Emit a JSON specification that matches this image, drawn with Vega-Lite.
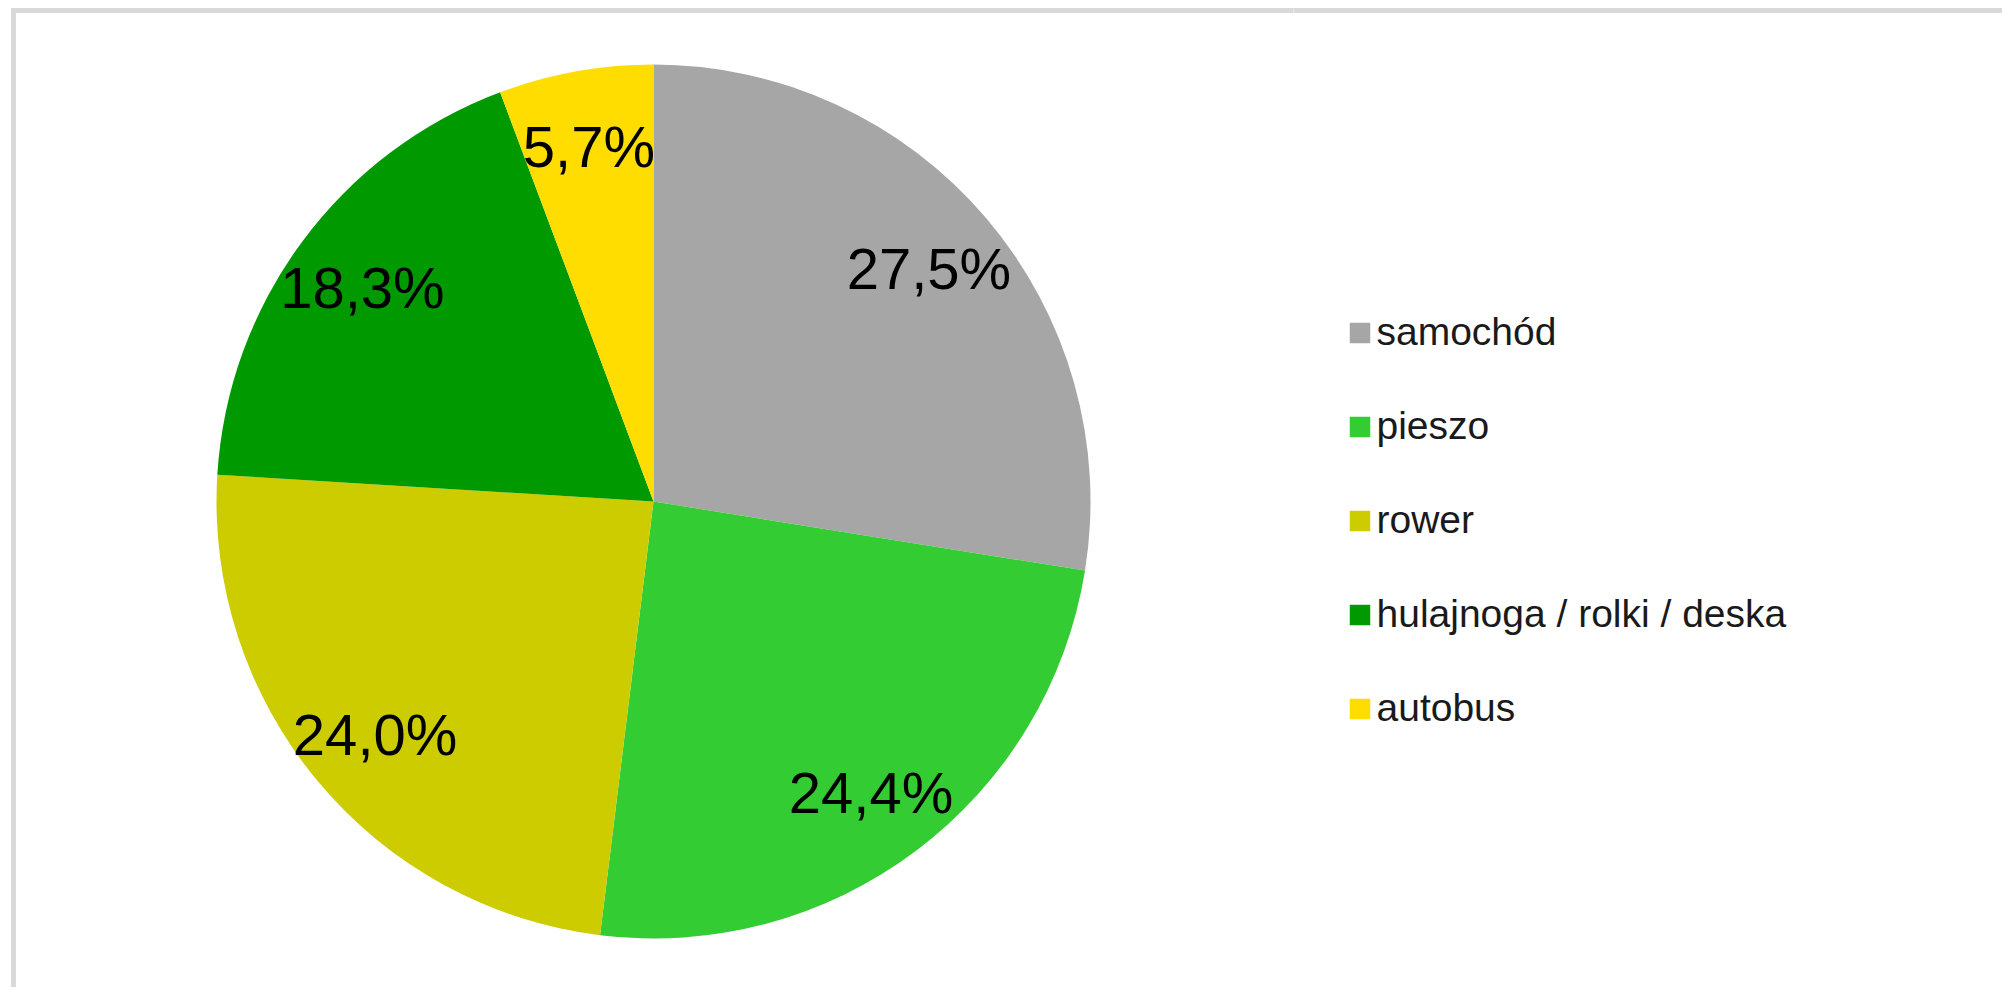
{
  "$schema": "https://vega.github.io/schema/vega-lite/v6.json",
  "autosize": {"type": "pad"},
  "padding": {"left": 10.5, "top": 7.5, "right": 0, "bottom": 0},
  "background": "white",
  "spacing": 0,
  "bounds": "flush",
  "config": {
    "locale": {"number": {"decimal": ",", "thousands": " ", "grouping": [3], "currency": ["", " zł"]}},
    "font": "Liberation Sans"
  },
  "datasets": {
    "udzialy": [
      {"sposob": "samochód", "udzial": 0.275, "kolejnosc": 1},
      {"sposob": "pieszo", "udzial": 0.244, "kolejnosc": 2},
      {"sposob": "rower", "udzial": 0.240, "kolejnosc": 3},
      {"sposob": "hulajnoga / rolki / deska", "udzial": 0.183, "kolejnosc": 4},
      {"sposob": "autobus", "udzial": 0.057, "kolejnosc": 5}
    ],
    "pusty": []
  },
  "hconcat": [
    {
      "width": 1280,
      "height": 982,
      "view": {"stroke": "#d9d9d9", "strokeWidth": 5, "strokeDash": [1280, 2262, 982], "fill": "white"},
      "data": {"name": "udzialy"},
      "encoding": {
        "theta": {"field": "udzial", "type": "quantitative", "stack": true},
        "order": {"field": "kolejnosc", "type": "quantitative", "sort": "ascending"},
        "color": {
          "field": "sposob",
          "type": "nominal",
          "scale": {
            "domain": ["samochód", "pieszo", "rower", "hulajnoga / rolki / deska", "autobus"],
            "range": ["#a6a6a6", "#33cc33", "#cccc00", "#009900", "#ffdd00"]
          },
          "legend": {
            "title": null,
            "orient": "none",
            "legendX": 1327,
            "legendY": 303,
            "padding": 0,
            "symbolType": "square",
            "symbolSize": 420,
            "symbolStrokeWidth": 0,
            "symbolOpacity": 1,
            "labelFont": "Liberation Sans",
            "labelFontSize": 39,
            "labelColor": "#1a1a1a",
            "labelOffset": -3,
            "rowPadding": 54,
            "labelLimit": 600
          }
        }
      },
      "layer": [
        {"mark": {"type": "arc", "outerRadius": 437, "stroke": null}},
        {
          "mark": {"type": "text", "radius": 362, "dy": 5, "fontSize": 58, "font": "Liberation Sans", "fill": "#000000", "align": "center", "baseline": "middle"},
          "encoding": {
            "text": {"field": "udzial", "type": "quantitative", "format": ".1%"},
            "color": {"value": "#000000"}
          }
        }
      ]
    },
    {
      "width": 709,
      "height": 982,
      "view": {"stroke": "#d9d9d9", "strokeWidth": 5, "strokeDash": [709, 2673], "fill": "white"},
      "data": {"name": "pusty"},
      "mark": "rule",
      "encoding": {}
    }
  ]
}
